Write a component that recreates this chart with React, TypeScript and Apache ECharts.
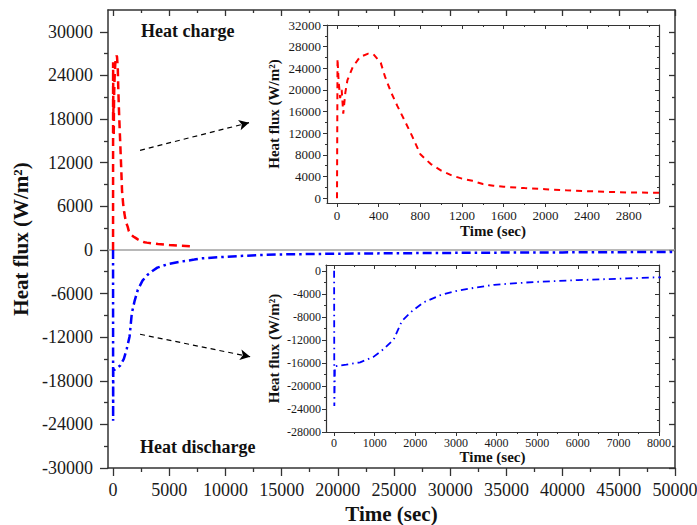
import React, { useEffect, useRef } from "react";
import * as echarts from "echarts";

// ---- data ----
const chargeTime = [0, 5, 15, 30, 45, 60, 80, 100, 150, 220, 300, 350, 420, 460, 520, 580, 650, 720, 800, 900, 1000, 1100, 1200, 1300, 1400, 1500, 1600, 1800, 2000, 2200, 2400, 2600, 2800, 3000, 3500, 4000, 5000, 6000, 7000];
const chargeFlux = [0, 25800, 21800, 18500, 20000, 15600, 19500, 21800, 24200, 26100, 26700, 26600, 25000, 22500, 19500, 17000, 14300, 11500, 8100, 6300, 5100, 4200, 3600, 3200, 2600, 2300, 2100, 1850, 1650, 1450, 1290, 1150, 1050, 1000, 900, 800, 680, 580, 500];

const dischargeTime = [0, 5, 20, 300, 640, 960, 1220, 1470, 1670, 1920, 2200, 2620, 3030, 3500, 3940, 4500, 5000, 6000, 7230, 7880, 10000, 13000, 15000, 20000, 25000, 30000, 35000, 40000, 45000, 50000];
const dischargeFlux = [0, -23500, -16600, -16300, -15900, -15000, -13600, -11900, -8700, -7000, -5500, -4230, -3480, -2900, -2440, -2150, -1920, -1620, -1330, -1160, -950, -700, -620, -520, -460, -410, -370, -340, -310, -280];

// tick labels
const mainXLabels = [0, 5000, 10000, 15000, 20000, 25000, 30000, 35000, 40000, 45000, 50000];
const mainXMinor = [2500, 7500, 12500, 17500, 22500, 27500, 32500, 37500, 42500, 47500];
const mainYLabels = [-30000, -24000, -18000, -12000, -6000, 0, 6000, 12000, 18000, 24000, 30000];
const mainYMinor = [-27000, -21000, -15000, -9000, -3000, 3000, 9000, 15000, 21000, 27000];
const in1XLabels = [0, 400, 800, 1200, 1600, 2000, 2400, 2800];
const in1XMinor = [200, 600, 1000, 1400, 1800, 2200, 2600, 3000];
const in1YLabels = [0, 4000, 8000, 12000, 16000, 20000, 24000, 28000, 32000];
const in1YMinor = [2000, 6000, 10000, 14000, 18000, 22000, 26000, 30000];
const in2XLabels = [0, 1000, 2000, 3000, 4000, 5000, 6000, 7000, 8000];
const in2XMinor = [500, 1500, 2500, 3500, 4500, 5500, 6500, 7500];
const in2YLabels = [-28000, -24000, -20000, -16000, -12000, -8000, -4000, 0];
const in2YMinor = [-26000, -22000, -18000, -14000, -10000, -6000, -2000];

const FONT = "Liberation Serif";

function axisSet(dim: "x" | "y", grid: number, min: number, max: number, major: number[], minor: number[], cfg: any) {
  const pos = dim === "x" ? ["bottom", "top"] : ["left", "right"];
  const common = { type: "value", gridIndex: grid, min, max, splitLine: { show: false } };
  const line = { show: true, onZero: false, lineStyle: { color: "#333", width: cfg.lw } };
  const tickStyle = { color: "#333", width: cfg.tw };
  return [
    {
      ...common,
      position: pos[0],
      axisLine: line,
      axisTick: { show: true, inside: false, length: cfg.major, customValues: major, lineStyle: tickStyle },
      axisLabel: {
        show: true,
        customValues: major,
        formatter: (v: number) => String(v),
        color: "#1a1a1a",
        margin: cfg.margin,
        fontSize: cfg.fs,
        fontFamily: FONT,
      },
      name: cfg.name,
      nameLocation: "middle",
      nameGap: cfg.nameGap,
      nameTextStyle: { fontSize: cfg.nfs, fontWeight: "bold", fontFamily: FONT, color: "#111" },
    },
    {
      ...common,
      position: pos[0],
      axisLine: { show: false, onZero: false },
      axisTick: { show: true, inside: false, length: cfg.minor, customValues: minor, lineStyle: tickStyle },
      axisLabel: { show: false },
    },
    {
      ...common,
      position: pos[1],
      axisLine: line,
      axisTick: { show: true, inside: true, length: cfg.mmajor, customValues: major, lineStyle: tickStyle },
      axisLabel: { show: false },
    },
    {
      ...common,
      position: pos[1],
      axisLine: { show: false, onZero: false },
      axisTick: { show: true, inside: true, length: cfg.mminor, customValues: minor, lineStyle: tickStyle },
      axisLabel: { show: false },
    },
  ];
}

export default function App() {
  const ref = useRef<HTMLDivElement>(null);
  useEffect(() => {
    if (!ref.current) return;
    const chart = echarts.init(ref.current, undefined, { renderer: "svg" });
    const charge = chargeTime.map((t, i) => [t, chargeFlux[i]]);
    const discharge = dischargeTime.map((t, i) => [t, dischargeFlux[i]]);

    const xAxis = [
      ...axisSet("x", 0, -450, 50000, mainXLabels, mainXMinor, { lw: 1.5, tw: 1.3, major: 8, minor: 4, mmajor: 6, mminor: 3, fs: 18, margin: 13, name: "Time (sec)", nameGap: 33, nfs: 21 }),
      ...axisSet("x", 1, -96, 3090, in1XLabels, in1XMinor, { lw: 1.2, tw: 1, major: 4, minor: 2, mmajor: 4, mminor: 2, fs: 13, margin: 6, name: "Time (sec)", nameGap: 20, nfs: 15 }),
      ...axisSet("x", 2, -200, 8000, in2XLabels, in2XMinor, { lw: 1.2, tw: 1, major: 4, minor: 2, mmajor: 4, mminor: 2, fs: 12, margin: 5, name: "Time (sec)", nameGap: 17, nfs: 15 }),
    ];
    const yAxis = [
      ...axisSet("y", 0, -30000, 33000, mainYLabels, mainYMinor, { lw: 1.5, tw: 1.3, major: 8, minor: 4, mmajor: 6, mminor: 3, fs: 18, margin: 15, name: "Heat flux (W/m²)", nameGap: 70, nfs: 21 }),
      ...axisSet("y", 1, -900, 32000, in1YLabels, in1YMinor, { lw: 1.2, tw: 1, major: 4, minor: 2, mmajor: 4, mminor: 2, fs: 13, margin: 6, name: "Heat flux (W/m²)", nameGap: 46, nfs: 15 }),
      ...axisSet("y", 2, -28000, 1000, in2YLabels, in2YMinor, { lw: 1.2, tw: 1, major: 4, minor: 2, mmajor: 4, mminor: 2, fs: 12, margin: 5, name: "Heat flux (W/m²)", nameGap: 45, nfs: 15 }),
    ];

    chart.setOption({
      animation: false,
      backgroundColor: "#fff",
      textStyle: { fontFamily: FONT },
      grid: [
        { left: 108, top: 10, width: 567, height: 458, outerBoundsMode: "none", containLabel: false },
        { left: 327, top: 25, width: 332, height: 178, outerBoundsMode: "none", containLabel: false },
        { left: 326, top: 265, width: 333, height: 167, outerBoundsMode: "none", containLabel: false },
      ],
      xAxis,
      yAxis,
      graphic: [
        { type: "text", left: 141, top: 22, style: { text: "Heat charge", fontSize: 18, fontWeight: "bold", fontFamily: FONT, fill: "#111" } },
        { type: "text", left: 140, top: 438, style: { text: "Heat discharge", fontSize: 18, fontWeight: "bold", fontFamily: FONT, fill: "#111" } },
      ],
      series: [
        {
          type: "line",
          xAxisIndex: 0,
          yAxisIndex: 0,
          data: discharge,
          showSymbol: false,
          lineStyle: { color: "#0000ff", width: 2.5, type: [9, 4, 2.5, 4] },
          z: 3,
          markLine: {
            silent: true,
            symbol: ["none", "none"],
            label: { show: false },
            lineStyle: { color: "#a0a0a0", width: 1.5, type: "solid" },
            data: [{ yAxis: 0 }],
            z: 1,
          },
        },
        {
          type: "line",
          xAxisIndex: 0,
          yAxisIndex: 0,
          data: charge,
          showSymbol: false,
          lineStyle: { color: "#ff0000", width: 2.5, type: [8, 5] },
          z: 4,
          markLine: {
            silent: true,
            symbol: ["none", "arrow"],
            symbolSize: [8, 10],
            label: { show: false },
            lineStyle: { color: "#000", width: 1.2, type: [5, 4] },
            data: [
              [{ coord: [2400, 13700] }, { coord: [12100, 17500] }],
              [{ coord: [2400, -11600] }, { coord: [12200, -14700] }],
            ],
          },
        },
        {
          type: "line",
          xAxisIndex: 4,
          yAxisIndex: 4,
          data: charge,
          showSymbol: false,
          clip: true,
          lineStyle: { color: "#ff0000", width: 2, type: [6, 5] },
        },
        {
          type: "line",
          xAxisIndex: 8,
          yAxisIndex: 8,
          data: discharge,
          showSymbol: false,
          clip: true,
          lineStyle: { color: "#0000ff", width: 1.8, type: [7, 4, 1.5, 4] },
        },
      ],
    });
    return () => chart.dispose();
  }, []);
  return <div ref={ref} style={{ position: "fixed", left: 0, top: 0, width: 697, height: 525 }} />;
}
